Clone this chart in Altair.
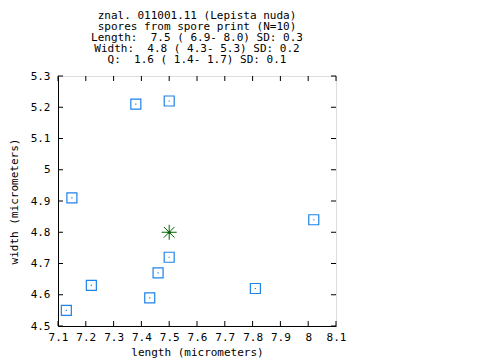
import altair as alt
import pandas as pd

# spore measurements
length = [7.15, 7.38, 7.50, 8.02, 7.50, 7.46, 7.22, 7.81, 7.43, 7.13]
width = [4.91, 5.21, 5.22, 4.84, 4.72, 4.67, 4.63, 4.62, 4.59, 4.55]
mean_length = [7.5]
mean_width = [4.8]

x_ticks = [7.1, 7.2, 7.3, 7.4, 7.5, 7.6, 7.7, 7.8, 7.9, 8.0, 8.1]
y_ticks = [4.5, 4.6, 4.7, 4.8, 4.9, 5.0, 5.1, 5.2, 5.3]

title_lines = [
    "znal. 011001.11 (Lepista nuda)",
    " spores from spore print (N=10)",
    "Length:  7.5 ( 6.9- 8.0) SD: 0.3",
    " Width:  4.8 ( 4.3- 5.3) SD: 0.2",
    "     Q:  1.6 ( 1.4- 1.7) SD: 0.1",
]
title_lines = [s.replace(" ", "\u00a0") for s in title_lines]

FONT = "DejaVu Sans Mono"
BLUE = "#1f82e8"
GREEN = "#006400"

pts = pd.DataFrame({"length": length, "width": width})
mean = pd.DataFrame({"length": mean_length, "width": mean_width})
xt = pd.DataFrame({"length": x_ticks})
yt = pd.DataFrame({"width": y_ticks})

xs = alt.Scale(domain=[7.1, 8.1], nice=False, zero=False)
ys = alt.Scale(domain=[4.5, 5.3], nice=False, zero=False)

xaxis = alt.Axis(values=x_ticks, format="~g", ticks=False, grid=False, domain=True,
                 domainColor="black", domainWidth=1,
                 labelFont=FONT, labelFontSize=11, labelColor="black", labelPadding=5,
                 title="length (micrometers)", titleFont=FONT, titleFontSize=11,
                 titleFontWeight="normal", titleColor="black", titleY=26,
                 titleBaseline="middle", labelFlush=False)
yaxis = alt.Axis(values=y_ticks, format="~g", ticks=False, grid=False, domain=True,
                 domainColor="black", domainWidth=1,
                 labelFont=FONT, labelFontSize=11, labelColor="black", labelPadding=8,
                 title="width (micrometers)", titleFont=FONT, titleFontSize=11,
                 titleFontWeight="normal", titleColor="black", titleX=-44, titleY=125,
                 titleAngle=-90, titleAlign="center", titleBaseline="middle", labelFlush=False)

X = alt.X("length:Q", scale=xs, axis=xaxis)
Y = alt.Y("width:Q", scale=ys, axis=yaxis)

squares = alt.Chart(pts).mark_point(shape="square", size=100, filled=False, color=BLUE,
                                    strokeWidth=1.2, opacity=1).encode(x=X, y=Y)
dots = alt.Chart(pts).mark_point(shape="square", size=1.5, filled=True, color=BLUE,
                                 opacity=1).encode(x=X, y=Y)

star_path = "M-1,0L1,0M0,-1L0,1M-0.7071,-0.7071L0.7071,0.7071M-0.7071,0.7071L0.7071,-0.7071"
star = alt.Chart(mean).mark_point(shape=star_path, size=225, filled=False, color=GREEN,
                                  strokeWidth=1, opacity=1).encode(x=X, y=Y)
star_dot = alt.Chart(mean).mark_point(shape="circle", size=10, filled=True, color=GREEN,
                                      opacity=1).encode(x=X, y=Y)

tb = alt.Chart(xt).mark_rule(color="black", strokeWidth=1).encode(
    x=X, y=alt.value(250), y2=alt.value(245))
tt = alt.Chart(xt).mark_rule(color="black", strokeWidth=1).encode(
    x=X, y=alt.value(0), y2=alt.value(5))
tl = alt.Chart(yt).mark_rule(color="black", strokeWidth=1).encode(
    y=Y, x=alt.value(0), x2=alt.value(5))
tr = alt.Chart(yt).mark_rule(color="black", strokeWidth=1).encode(
    y=Y, x=alt.value(278), x2=alt.value(273))

chart = alt.layer(squares, dots, star, star_dot, tb, tt, tl, tr).properties(
    width=278, height=250,
    title=alt.TitleParams(text=title_lines, font=FONT, fontSize=11, fontWeight="normal",
                          color="black", anchor="middle", baseline="bottom", lineHeight=11,
                          offset=-6),
    autosize=alt.AutoSizeParams(type="none"),
    padding={"left": 50, "top": 68, "right": 136, "bottom": 32},
).configure_view(stroke="black", strokeWidth=1).configure(background="white")

chart.save("out.html", embed_options={"renderer": "svg", "actions": False})
